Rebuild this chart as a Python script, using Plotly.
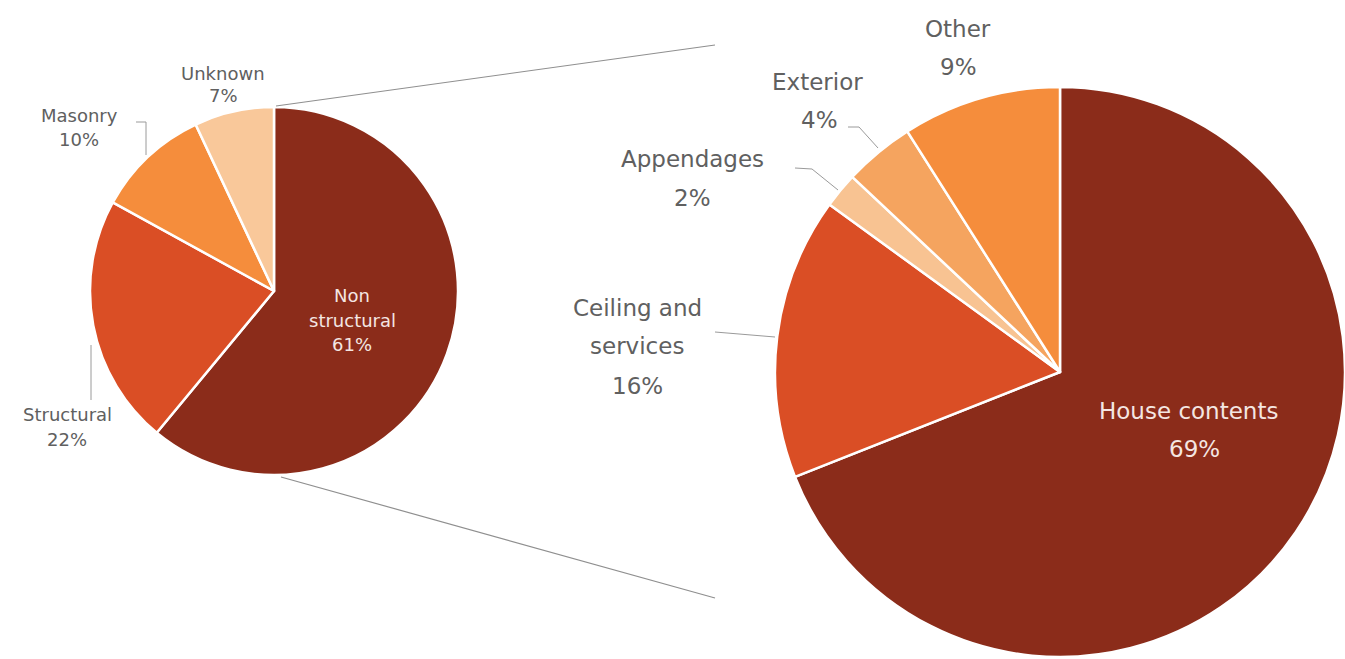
import plotly.graph_objects as go

W, H = 1345, 659

left_labels = ["Non structural", "Structural", "Masonry", "Unknown"]
left_values = [61, 22, 10, 7]
right_labels = ["House contents", "Ceiling and services", "Appendages", "Exterior", "Other"]
right_values = [69, 16, 2, 4, 9]

left_colors = ["#8B2C1A", "#DA4E25", "#F58D3C", "#F9C89A"]
right_colors = ["#8B2C1A", "#DA4E25", "#F8C392", "#F5A45F", "#F58D3C"]

def px(x):
    return x / W

def py(y):
    return 1 - y / H

fig = go.Figure()
fig.add_trace(go.Pie(
    labels=left_labels, values=left_values, sort=False, direction="clockwise", rotation=0,
    marker=dict(colors=left_colors, line=dict(color="white", width=2.5)),
    textinfo="none", hoverinfo="label+percent", showlegend=False,
    domain=dict(x=[px(274 - 184), px(274 + 184)], y=[py(291 + 184), py(291 - 184)]),
))
fig.add_trace(go.Pie(
    labels=right_labels, values=right_values, sort=False, direction="clockwise", rotation=0,
    marker=dict(colors=right_colors, line=dict(color="white", width=2.5)),
    textinfo="none", hoverinfo="label+percent", showlegend=False,
    domain=dict(x=[px(775), 1.0], y=[py(372 + 285), py(372 - 285)]),
))

FONT = "DejaVu Sans"
GRAY = "#606060"
LINE = "#9a9a9a"

def label(lines, x, ys, size, color=GRAY):
    for t, y in zip(lines, ys):
        fig.add_annotation(x=px(x), y=py(y), xref="paper", yref="paper", text=t,
                           showarrow=False, xanchor="center", yanchor="middle",
                           font=dict(family=FONT, size=size, color=color))

def pct(v):
    return f"{v}%"

# Left pie labels
label(["Non", "structural", pct(left_values[0])], 352, [296, 320, 344], 18, "#f4e6e2")
label(["Structural", pct(left_values[1])], 67, [414, 439], 18)
label(["Masonry", pct(left_values[2])], 79, [115, 139], 18)
label(["Unknown", pct(left_values[3])], 223, [74, 95], 18)

# Right pie labels
label(["House contents"], 1188, [411], 23, "#f4e6e2")
label([pct(right_values[0])], 1194, [449], 23, "#f4e6e2")
label(["Ceiling and", "services", pct(right_values[1])], 637, [308, 346, 386], 23)
label(["Appendages", pct(right_values[2])], 693, [159, 198], 23)
label(["Exterior"], 817, [82], 23)
label([pct(right_values[3])], 819, [120], 23)
label(["Other", pct(right_values[4])], 958, [29, 67], 23)

def seg(pts, color=LINE, width=1):
    path = "M " + " L ".join(f"{px(x)},{py(y)}" for x, y in pts)
    fig.add_shape(type="path", path=path, xref="paper", yref="paper",
                  line=dict(color=color, width=width))

# Connector lines between pies
seg([(276, 106), (715, 45)], color="#8f8f8f", width=1.2)
seg([(281, 477), (715, 598)], color="#8f8f8f", width=1.2)

# Leader lines
seg([(136, 122), (146, 122), (146, 155)])
seg([(91, 345), (91, 400)])
seg([(795, 168), (812, 169), (838, 190)])
seg([(848, 127), (859, 127), (878, 148)])
seg([(715, 332), (775, 337)])

fig.update_layout(
    width=W, height=H, margin=dict(l=0, r=0, t=0, b=0),
    paper_bgcolor="white", plot_bgcolor="white",
    font=dict(family=FONT),
)

fig.write_html("out.html")
